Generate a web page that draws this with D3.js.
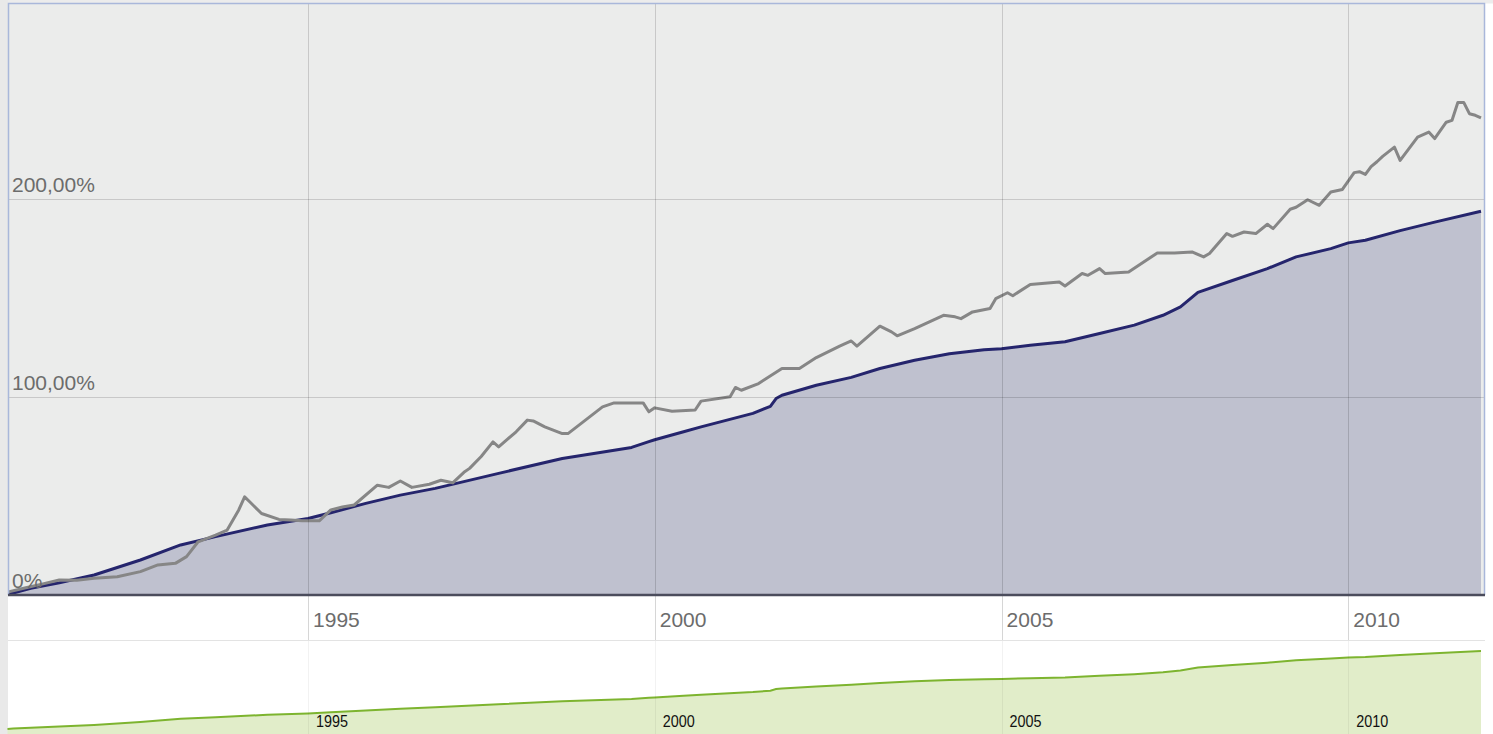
<!DOCTYPE html>
<html>
<head>
<meta charset="utf-8">
<script src="https://cdn.jsdelivr.net/npm/d3@7"></script>
<style>
  body { margin: 0; background: #fff; }
  svg { display: block; font-family: "Liberation Sans", Arial, sans-serif; }
</style>
</head>
<body>
<svg id="chart" width="1493" height="734"></svg>
<script>
// fund / benchmark, cumulative performance in %
var fundMonths = ['1990-09', '1990-10', '1991-01', '1991-06', '1991-12', '1992-08', '1993-03', '1993-09',
    '1994-06', '1995-01', '1995-05', '1995-11', '1996-05', '1996-11', '1997-10', '1998-09', '1999-09',
    '1999-12', '2000-01', '2000-06', '2000-09', '2001-06', '2001-09', '2001-10', '2001-11', '2002-05',
    '2002-11', '2003-04', '2003-10', '2004-04', '2004-10', '2005-01', '2005-06', '2005-12', '2006-06',
    '2006-12', '2007-05', '2007-08', '2007-11', '2008-05', '2008-11', '2009-04', '2009-10', '2010-01',
    '2010-04', '2010-10', '2011-04', '2011-12']
var fundValues = [0, 1, 3.4, 6.2, 10.1, 17.7, 25.3, 29.5,
    35.4, 38.7, 41.6, 46.3, 50.5, 53.9, 61.5, 69, 74.6,
    77.5, 78.5, 82.5, 85, 91.8, 95.4, 99.3, 101, 106,
    110, 114.5, 118.7, 122, 124, 124.5, 126.3, 128, 132.2,
    136.4, 141.4, 145.6, 153, 159, 165, 170.9, 175.1, 178,
    179.3, 184.2, 188.5, 194]

var benchMonths = ['1990-09', '1990-12', '1991-03', '1991-06', '1991-09', '1991-12', '1992-04', '1992-08',
    '1992-11', '1993-02', '1993-04', '1993-06', '1993-09', '1993-11', '1994-01', '1994-02', '1994-03',
    '1994-05', '1994-08', '1994-10', '1994-12', '1995-03', '1995-05', '1995-07', '1995-09', '1996-01',
    '1996-03', '1996-05', '1996-07', '1996-10', '1996-12', '1997-02', '1997-04', '1997-05', '1997-07',
    '1997-09', '1997-10', '1998-01', '1998-03', '1998-04', '1998-06', '1998-09', '1998-10', '1999-01',
    '1999-04', '1999-06', '1999-11', '1999-12', '2000-01', '2000-04', '2000-08', '2000-09', '2001-02',
    '2001-03', '2001-04', '2001-07', '2001-11', '2002-02', '2002-05', '2002-09', '2002-11', '2002-12',
    '2003-04', '2003-06', '2003-07', '2003-10', '2004-03', '2004-05', '2004-06', '2004-08', '2004-11',
    '2004-12', '2005-02', '2005-03', '2005-06', '2005-09', '2005-11', '2005-12', '2006-03', '2006-04',
    '2006-06', '2006-07', '2006-11', '2007-04', '2007-07', '2007-10', '2007-12', '2008-01', '2008-04',
    '2008-05', '2008-07', '2008-09', '2008-11', '2008-12', '2009-03', '2009-04', '2009-06', '2009-08',
    '2009-10', '2009-12', '2010-02', '2010-03', '2010-04', '2010-05', '2010-06', '2010-07', '2010-09',
    '2010-10', '2011-01', '2011-03', '2011-04', '2011-06', '2011-07', '2011-08', '2011-09', '2011-10',
    '2011-11', '2011-12']
var benchValues = [1.5, 3.5, 5.5, 7.6, 7.5, 8.5, 9.2, 11.8,
    15.2, 16, 19.4, 26.9, 30.3, 32.8, 43, 49.6, 47,
    41.2, 38.2, 37.9, 37.5, 37.5, 43, 44.5, 45.5, 55.5,
    54.4, 57.6, 54.4, 56, 58, 56.7, 62, 64, 70,
    77.4, 74.9, 82.5, 88.4, 88, 85, 81.6, 81.6, 88.4,
    95.1, 97.1, 97.1, 92.6, 94.6, 92.9, 93.5, 98, 100.2,
    104.9, 103.5, 106.9, 114.5, 114.5, 120, 125.8, 128.4, 125.8,
    135.9, 133, 131, 134.7, 141.4, 140.6, 139.7, 143.1, 144.8,
    149.8, 152.8, 151.3, 157, 157.7, 158.2, 156.2, 162.5, 161.6,
    165, 162.5, 163.3, 172.9, 172.9, 173.4, 170.9, 172.6, 182.7,
    181.3, 183.5, 182.7, 187.4, 185.2, 195, 196, 199.8, 197,
    203.7, 205, 213.5, 214, 212.6, 216.5, 219, 221.7, 226.4,
    219.7, 231.5, 234, 230.7, 239, 239.9, 249, 249, 243.3,
    242.5, 241.2]

var yTicks = [0, 100, 200]
var yTickLabels = ['0%', '100,00%', '200,00%']
var xTickYears = [1995, 2000, 2005, 2010]

var parseMonth = d3.timeParse('%Y-%m')
var fund = fundMonths.map((m, i) => ({ date: parseMonth(m), value: fundValues[i] }))
var bench = benchMonths.map((m, i) => ({ date: parseMonth(m), value: benchValues[i] }))

var plotLeft = 8, plotRight = 1485, plotTop = 3.5, plotBottom = 595
var navTop = 641, navBottom = 734

var svg = d3.select('#chart')

var x = d3.scaleTime()
    .domain([parseMonth('1990-09'), parseMonth('2011-12')])
    .range([7.5, 1481])
var y = d3.scaleLinear().domain([0, 299]).range([plotBottom, plotTop])
var yNav = d3.scaleLinear().domain([0, d3.max(fundValues)]).range([729, 651])

var tickDates = xTickYears.map(yr => new Date(yr, 0, 1))

// page chrome
svg.append('rect').attr('x', 0).attr('y', 0).attr('width', 1493).attr('height', plotTop).attr('fill', '#ececec')
svg.append('rect').attr('x', 0).attr('y', 0).attr('width', plotLeft).attr('height', 734).attr('fill', '#e9e9e9')

svg.append('defs').append('clipPath').attr('id', 'plotClip')
    .append('rect').attr('x', plotLeft).attr('y', plotTop)
    .attr('width', plotRight - plotLeft).attr('height', plotBottom - plotTop)

// plot background
svg.append('rect')
    .attr('x', plotLeft).attr('y', plotTop)
    .attr('width', plotRight - plotLeft).attr('height', plotBottom - plotTop)
    .attr('fill', '#ebeceb')

const plot = svg.append('g').attr('clip-path', 'url(#plotClip)')

// fund area
plot.append('path')
    .datum(fund)
    .attr('fill', '#bfc1cf')
    .attr('d', d3.area().x(d => x(d.date)).y0(plotBottom).y1(d => y(d.value)))

// grid over the area
svg.append('g').selectAll('line').data(yTicks.slice(1)).enter().append('line')
    .attr('x1', plotLeft).attr('x2', plotRight)
    .attr('y1', d => Math.round(y(d)) + 0.5).attr('y2', d => Math.round(y(d)) + 0.5)
    .attr('stroke', 'rgba(0,0,0,0.15)')

svg.append('g').selectAll('line').data(tickDates).enter().append('line')
    .attr('x1', d => Math.round(x(d)) + 0.5).attr('x2', d => Math.round(x(d)) + 0.5)
    .attr('y1', plotTop).attr('y2', plotBottom)
    .attr('stroke', 'rgba(0,0,0,0.15)')
svg.append('g').selectAll('line').data(tickDates).enter().append('line')
    .attr('x1', d => Math.round(x(d)) + 0.5).attr('x2', d => Math.round(x(d)) + 0.5)
    .attr('y1', plotBottom).attr('y2', 640)
    .attr('stroke', '#d6d6d6')

// lines
plot.append('path')
    .datum(fund)
    .attr('fill', 'none')
    .attr('stroke', '#25256d')
    .attr('stroke-width', 3)
    .attr('stroke-linejoin', 'round')
    .attr('d', d3.line().x(d => x(d.date)).y(d => y(d.value)))

plot.append('path')
    .datum(bench)
    .attr('fill', 'none')
    .attr('stroke', '#868686')
    .attr('stroke-width', 3)
    .attr('stroke-linejoin', 'round')
    .attr('d', d3.line().x(d => x(d.date)).y(d => y(d.value)))

// frame
svg.append('path')
    .attr('d', 'M' + (plotLeft + 0.5) + ',' + plotBottom + 'V' + plotTop + 'H' + (plotRight - 0.5) + 'V' + plotBottom)
    .attr('fill', 'none')
    .attr('stroke', '#a9b7da')
    .attr('stroke-width', 1.5)
svg.append('line')
    .attr('x1', plotLeft).attr('x2', plotRight)
    .attr('y1', plotBottom).attr('y2', plotBottom)
    .attr('stroke', '#4b4c5c')
    .attr('stroke-width', 2.5)

// y labels
svg.append('g').selectAll('text').data(yTicks).enter().append('text')
    .attr('x', 12)
    .attr('y', d => y(d) - 7)
    .attr('font-size', 21)
    .attr('fill', '#6c6c6c')
    .text((d, i) => yTickLabels[i])

// x labels
svg.append('g').selectAll('text').data(tickDates).enter().append('text')
    .attr('x', d => x(d) + 5)
    .attr('y', 627)
    .attr('font-size', 21)
    .attr('fill', '#6c6c6c')
    .text(d => d3.timeFormat('%Y')(d))

// navigator
svg.append('line')
    .attr('x1', plotLeft).attr('x2', plotRight)
    .attr('y1', 640.5).attr('y2', 640.5)
    .attr('stroke', '#e3e3e3')

svg.append('path')
    .datum(fund)
    .attr('fill', '#e1edc9')
    .attr('d', d3.area().x(d => x(d.date)).y0(navBottom).y1(d => yNav(d.value)))
svg.append('path')
    .datum(fund)
    .attr('fill', 'none')
    .attr('stroke', '#7db42f')
    .attr('stroke-width', 2)
    .attr('d', d3.line().x(d => x(d.date)).y(d => yNav(d.value)))

svg.append('g').selectAll('line').data(tickDates).enter().append('line')
    .attr('x1', d => Math.round(x(d)) + 0.5).attr('x2', d => Math.round(x(d)) + 0.5)
    .attr('y1', navTop).attr('y2', navBottom)
    .attr('stroke', 'rgba(0,0,0,0.05)')

svg.append('g').selectAll('text').data(tickDates).enter().append('text')
    .attr('x', d => x(d) + 8)
    .attr('y', 727)
    .attr('font-size', 17)
    .attr('textLength', 32)
    .attr('lengthAdjust', 'spacingAndGlyphs')
    .attr('fill', '#111')
    .text(d => d3.timeFormat('%Y')(d))
</script>
</body>
</html>
